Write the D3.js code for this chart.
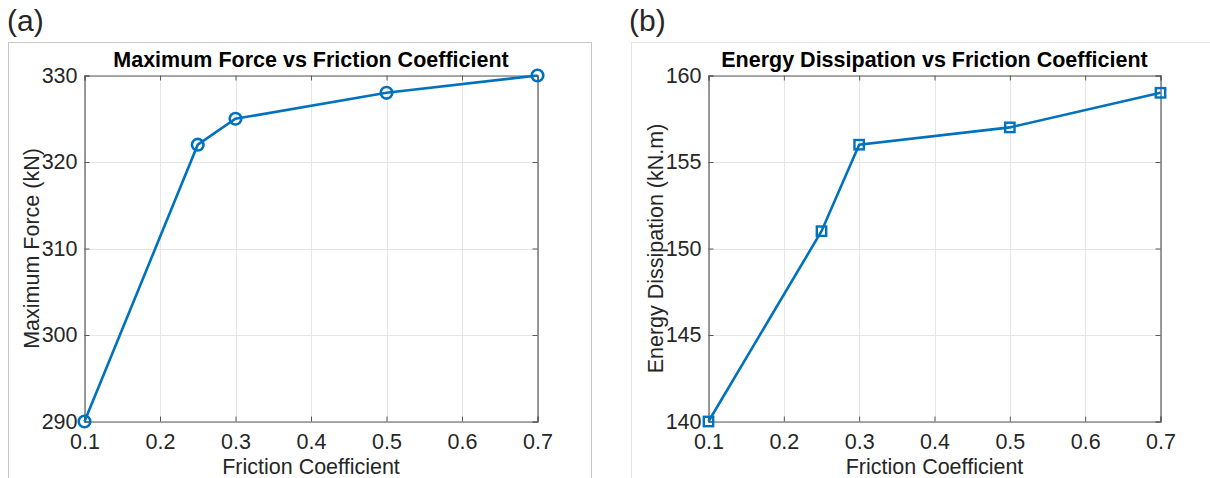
<!DOCTYPE html>
<html>
<head>
<meta charset="utf-8">
<script src="https://cdn.jsdelivr.net/npm/d3@7"></script>
<style>
  body { margin: 0; background: #fff; }
  text { font-family: "Liberation Sans", Arial, sans-serif; fill: #262626; }
</style>
</head>
<body>
<div id="chart"></div>
<script>
// data
const friction = [0.1, 0.25, 0.3, 0.5, 0.7];
const maxForce = [290, 322, 325, 328, 330];
const energy = [140, 151, 156, 157, 159];
const xTicks = [0.1, 0.2, 0.3, 0.4, 0.5, 0.6, 0.7];
const forceTicks = [290, 300, 310, 320, 330];
const energyTicks = [140, 145, 150, 155, 160];

const W = 1210, H = 478;
const blue = "#0072BD";

const svg = d3
  .select("#chart")
  .append("svg")
  .attr("width", W)
  .attr("height", H);

// panel frames
svg.append("rect").attr("x", 8.5).attr("y", 42.5).attr("width", 583).attr("height", 460)
  .attr("fill", "none").attr("stroke", "#c8c8c8");
svg.append("rect").attr("x", 631.5).attr("y", 42.5).attr("width", 600).attr("height", 460)
  .attr("fill", "none").attr("stroke", "#e2e2e2");

svg.append("text").attr("x", 7).attr("y", 31).style("font-size", "30px").text("(a)");
svg.append("text").attr("x", 629).attr("y", 31).style("font-size", "30px").text("(b)");

function drawPanel(opt) {
  const x = d3.scaleLinear().domain([0.1, 0.7]).range([opt.left, opt.right]);
  const y = d3.scaleLinear().domain(opt.yDomain).range([421.5, 75.5]);
  const g = svg.append("g");

  // grid
  g.selectAll(".gx").data(xTicks).join("line")
    .attr("x1", (d) => Math.round(x(d)) + 0.5).attr("x2", (d) => Math.round(x(d)) + 0.5)
    .attr("y1", y.range()[0]).attr("y2", y.range()[1])
    .attr("stroke", "#e6e6e6").attr("stroke-width", 1);
  g.selectAll(".gy").data(opt.yTicks).join("line")
    .attr("y1", (d) => Math.round(y(d)) + 0.5).attr("y2", (d) => Math.round(y(d)) + 0.5)
    .attr("x1", opt.left).attr("x2", opt.right)
    .attr("stroke", "#e6e6e6").attr("stroke-width", 1);

  // box axes, ticks inward
  const fmt = (d) => d;
  const axB = g.append("g").attr("transform", `translate(0,${y.range()[0]})`)
    .call(d3.axisBottom(x).tickValues(xTicks).tickSize(-5).tickPadding(12).tickFormat(fmt));
  const axT = g.append("g").attr("transform", `translate(0,${y.range()[1]})`)
    .call(d3.axisTop(x).tickValues(xTicks).tickSize(-5).tickFormat(""));
  const axL = g.append("g").attr("transform", `translate(${opt.left},0)`)
    .call(d3.axisLeft(y).tickValues(opt.yTicks).tickSize(-5).tickPadding(7).tickFormat(fmt));
  const axR = g.append("g").attr("transform", `translate(${opt.right},0)`)
    .call(d3.axisRight(y).tickValues(opt.yTicks).tickSize(-5).tickFormat(""));
  [axB, axT, axL, axR].forEach((a) => {
    a.select(".domain").attr("stroke", "#5a5a5a").attr("stroke-width", 1.2);
    a.selectAll(".tick line").attr("stroke", "#5a5a5a");
    a.selectAll("text").style("font-size", "21.5px").style("font-family", "Liberation Sans, Arial, sans-serif").attr("fill", "#262626");
  });

  // line + markers
  const pts = friction.map((f, i) => [f, opt.values[i]]);
  g.append("path").datum(pts)
    .attr("d", d3.line().x((d) => x(d[0])).y((d) => y(d[1])))
    .attr("fill", "none").attr("stroke", blue).attr("stroke-width", 2.6);

  if (opt.marker === "circle") {
    g.selectAll(".m").data(pts).join("circle")
      .attr("cx", (d) => x(d[0])).attr("cy", (d) => y(d[1])).attr("r", 5.8)
      .attr("fill", "none").attr("stroke", blue).attr("stroke-width", 2.6);
  } else {
    g.selectAll(".m").data(pts).join("rect")
      .attr("x", (d) => x(d[0]) - 4.7).attr("y", (d) => y(d[1]) - 4.7)
      .attr("width", 9.4).attr("height", 9.4)
      .attr("fill", "none").attr("stroke", blue).attr("stroke-width", 2.4);
  }

  const cx = (opt.left + opt.right) / 2;
  g.append("text").attr("x", cx).attr("y", 67).attr("text-anchor", "middle")
    .style("font-size", "21.5px").style("font-weight", "bold").style("fill", "#000")
    .text(opt.title);
  g.append("text").attr("x", cx).attr("y", 474).attr("text-anchor", "middle")
    .style("font-size", "21.5px").text("Friction Coefficient");
  g.append("text")
    .attr("transform", `translate(${opt.left - 46},${(y.range()[0] + y.range()[1]) / 2}) rotate(-90)`)
    .attr("text-anchor", "middle").style("font-size", "21.5px").text(opt.yLabel);
}

drawPanel({
  left: 84.5, right: 537.5, yDomain: [290, 330], yTicks: forceTicks, values: maxForce,
  marker: "circle", title: "Maximum Force vs Friction Coefficient", yLabel: "Maximum Force (kN)"
});
drawPanel({
  left: 708.5, right: 1160.5, yDomain: [140, 160], yTicks: energyTicks, values: energy,
  marker: "square", title: "Energy Dissipation vs Friction Coefficient", yLabel: "Energy Dissipation (kN.m)"
});
</script>
</body>
</html>
